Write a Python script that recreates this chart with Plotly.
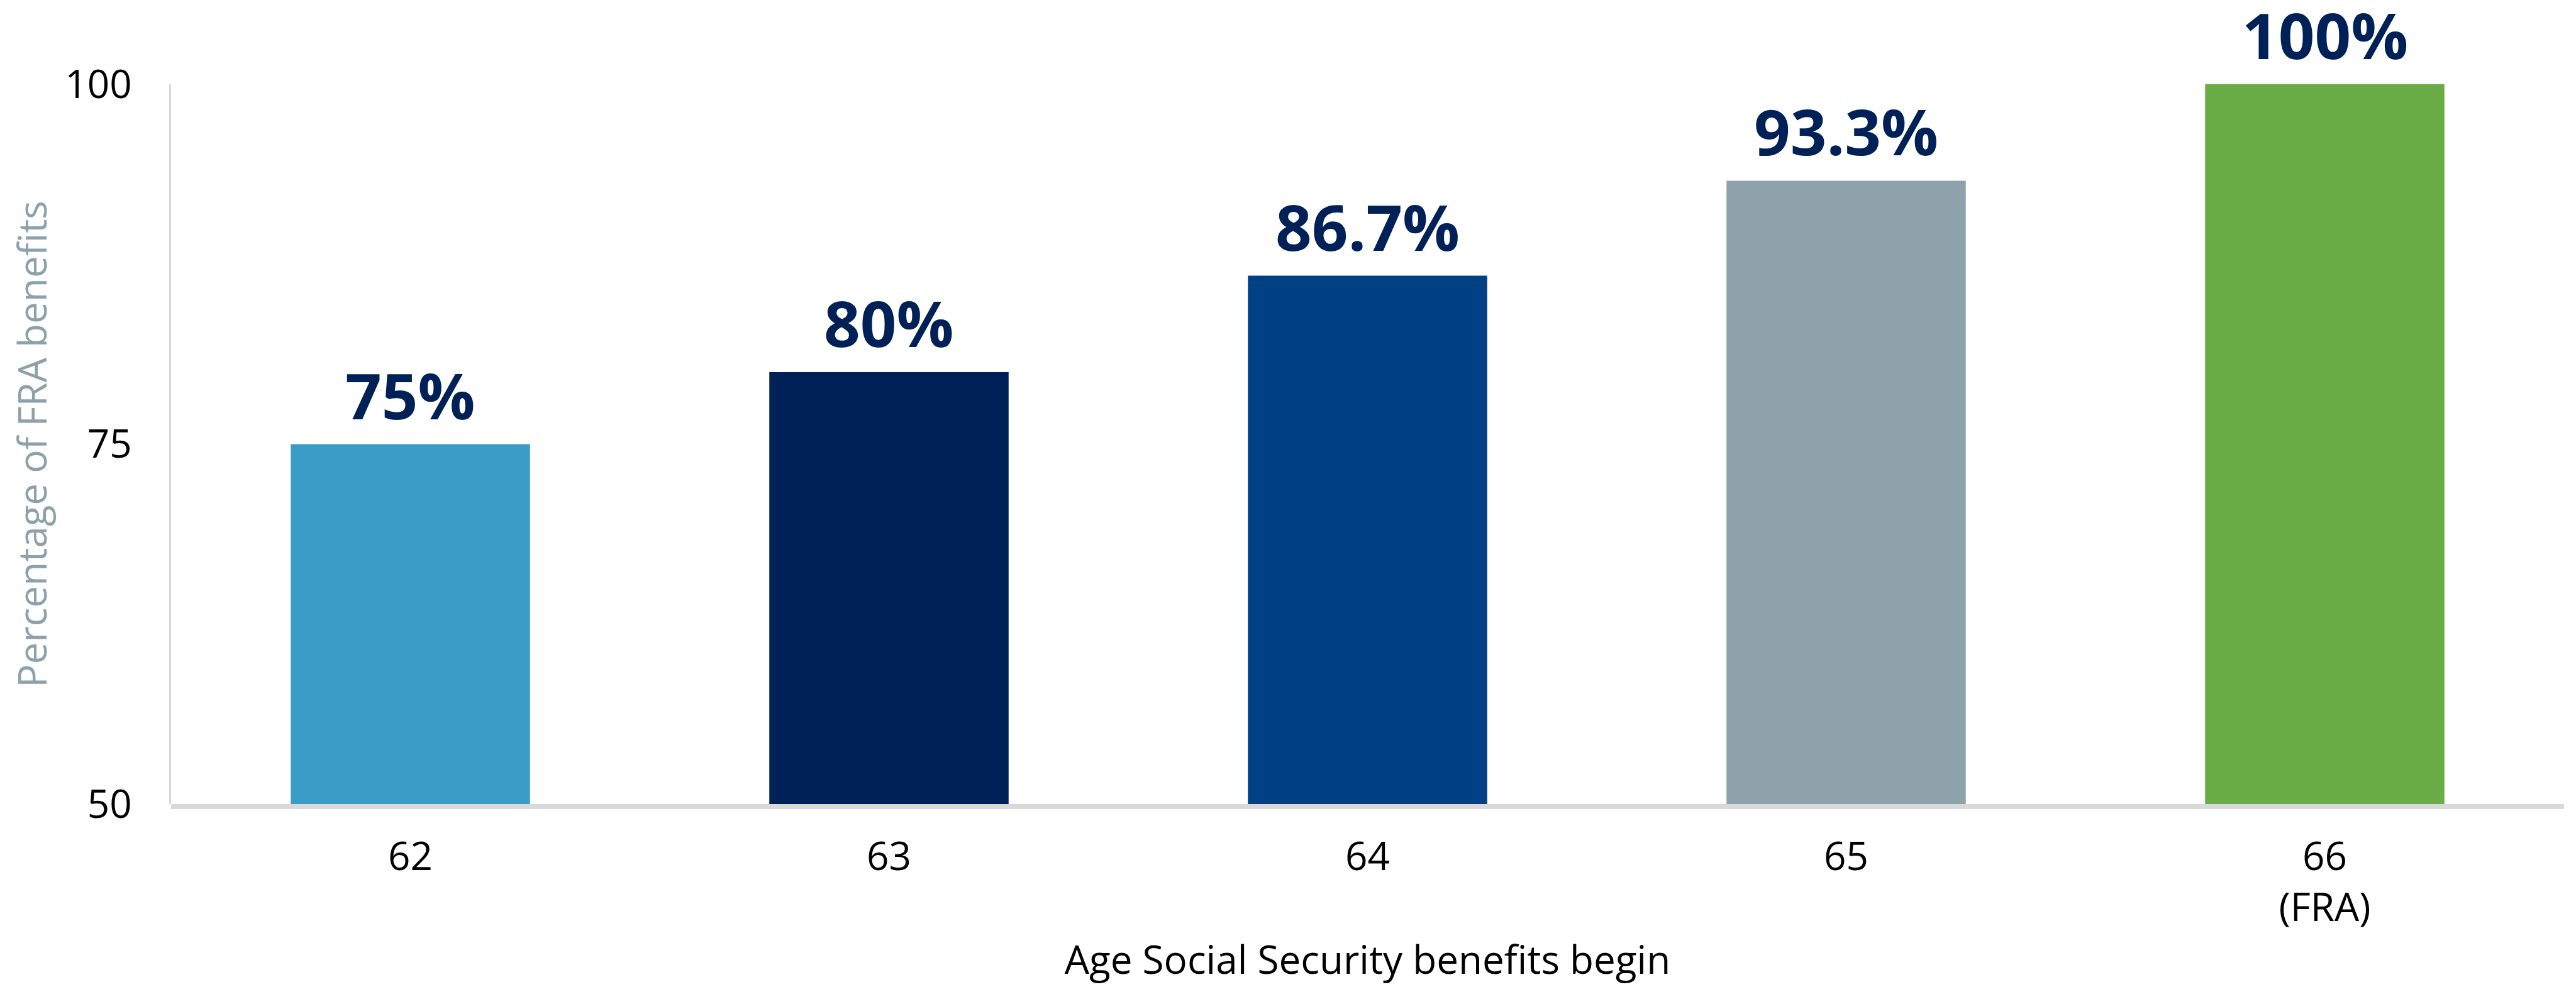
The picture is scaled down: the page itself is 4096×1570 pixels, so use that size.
import plotly.graph_objects as go

# ---- data ----
age_labels = ["62", "63", "64", "65", "66<br>(FRA)"]
pct_of_fra = [75, 80, 86.7, 93.3, 100]
bar_colors = ["#3A9DC8", "#002157", "#004185", "#8EA2AB", "#6AAD47"]
y_ticks = [50, 75, 100]
x_title = "Age Social Security benefits begin"
y_title = "Percentage of FRA benefits"

label_texts = [f"{v:g}%" for v in pct_of_fra]
positions = list(range(len(age_labels)))

W, H = 4096, 1570
FONT = "Open Sans"

fig = go.Figure()
fig.add_trace(go.Bar(
    x=positions, y=pct_of_fra, width=0.5,
    marker=dict(color=bar_colors, line=dict(width=0)),
    hoverinfo="skip",
    showlegend=False,
))

for x, v, t in zip(positions, pct_of_fra, label_texts):
    fig.add_annotation(
        x=x, y=v, xref="x", yref="y", text=f"<b>{t}</b>", showarrow=False,
        xanchor="center", yanchor="bottom", yshift=8,
        font=dict(family=FONT, size=101, color="#002157"),
    )

# thick light-gray baseline just below the bars
fig.add_shape(
    type="rect", xref="paper", x0=0, x1=1,
    yref="paper", ysizemode="pixel", yanchor=0, y0=-8, y1=0,
    fillcolor="#D9D9D9", line=dict(width=0), layer="above",
)

fig.update_layout(
    width=W, height=H,
    margin=dict(l=264, r=27, t=126, b=299),
    paper_bgcolor="white", plot_bgcolor="white",
    font=dict(family=FONT, size=62, color="#000000"),
    xaxis=dict(
        range=[-0.5, len(age_labels) - 0.5],
        tickvals=positions, ticktext=age_labels,
        showline=False, showgrid=False, zeroline=False,
        ticks="", ticklabelstandoff=42, automargin=False,
        tickfont=dict(family=FONT, size=62, color="#000000"),
        title=dict(text=x_title, standoff=24,
                   font=dict(family=FONT, size=62, color="#000000")),
    ),
    yaxis=dict(
        range=[50, 100], tickvals=y_ticks,
        showline=True, linecolor="#D9D9D9", linewidth=3,
        showgrid=False, zeroline=False, automargin=False,
        ticks="", ticklabelstandoff=47,
        tickfont=dict(family=FONT, size=62, color="#000000"),
        title=dict(text=y_title, standoff=26,
                   font=dict(family=FONT, size=62, color="#8DA1AB")),
    ),
)

fig.write_html("out.html")
